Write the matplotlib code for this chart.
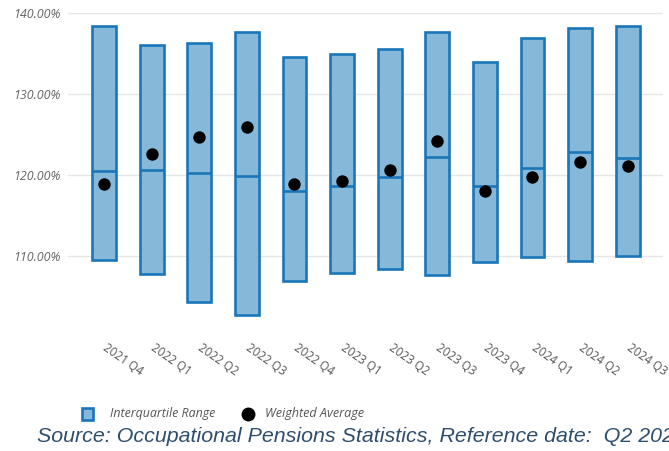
import matplotlib
matplotlib.use("Agg")
import matplotlib.pyplot as plt
import numpy as np
from matplotlib.lines import Line2D

categories = ["2021 Q4", "2022 Q1", "2022 Q2", "2022 Q3", "2022 Q4", "2023 Q1",
              "2023 Q2", "2023 Q3", "2023 Q4", "2024 Q1", "2024 Q2", "2024 Q3"]
q1 = [109.5, 107.8, 104.3, 102.7, 106.9, 107.9, 108.35, 107.6, 109.3, 109.9, 109.4, 109.95]
q3 = [138.4, 136.1, 136.3, 137.7, 134.6, 135.0, 135.6, 137.65, 133.95, 136.95, 138.1, 138.35]
median = [120.45, 120.65, 120.3, 119.9, 118.0, 118.7, 119.8, 122.25, 118.7, 120.9, 122.9, 122.1]
weighted_avg = [118.9, 122.6, 124.7, 125.9, 118.9, 119.2, 120.65, 124.2, 118.0, 119.8, 121.6, 121.15]
yticks = [110, 120, 130, 140]

W, H = 669, 451
fig = plt.figure(figsize=(W / 100, H / 100), dpi=100)
fig.patch.set_facecolor("white")

ylo, yhi = 101.5, 140.3
px_per = 8.1
top_px = 175 - (yhi - 120) * px_per
bot_px = 175 + (120 - ylo) * px_per
left_px, right_px = 68, 663
ax = fig.add_axes([left_px / W, 1 - bot_px / H, (right_px - left_px) / W, (bot_px - top_px) / H])

x = np.arange(len(categories))
spacing = 47.6
first = (104 - left_px) / spacing
ax.set_xlim(-first, -first + (right_px - left_px) / spacing)
ax.set_ylim(ylo, yhi)

edge = "#1a76b8"
fill = "#86b8da"
bw = 0.5
heights = np.array(q3) - np.array(q1)
ax.bar(x, heights, bottom=q1, width=bw, color=fill, edgecolor=edge, linewidth=1.9, zorder=2)
ax.hlines(median, x - bw / 2, x + bw / 2, color=edge, linewidth=1.9, zorder=3)
ax.scatter(x, weighted_avg, s=80, color="black", zorder=4, linewidths=0)

ax.set_yticks(yticks)
ax.set_yticklabels([f"{v:.2f}%" for v in yticks], fontstyle="italic",
                   fontfamily="Open Sans", fontsize=9, color="#666666")
ax.yaxis.grid(True, color="#e6e6e6", linewidth=1)
ax.set_axisbelow(True)
ax.tick_params(axis="y", length=0, pad=5)
ax.tick_params(axis="x", length=0)
ax.set_xticks(x)
ax.set_xticklabels([])
for s in ax.spines.values():
    s.set_visible(False)

for xi, lab in zip(x, categories):
    ax.annotate(lab, xy=(xi, 0), xycoords=("data", "axes fraction"),
                xytext=(4, -16), textcoords="offset pixels",
                rotation=-35, rotation_mode="anchor", ha="left", va="top",
                fontsize=8.4, fontfamily="Open Sans", color="#555555",
                annotation_clip=False)

# legend
fig.patches.append(matplotlib.patches.Rectangle((82 / W, 1 - 420 / H), 11 / W, 12 / H,
                   transform=fig.transFigure, facecolor=fill, edgecolor=edge, linewidth=1.9))
fig.text(110 / W, 1 - 414 / H, "Interquartile Range", fontsize=8.9, fontstyle="italic",
         fontfamily="Open Sans", color="#555555", va="center", ha="left")
fig.add_artist(Line2D([248 / W], [1 - 414 / H], marker="o", markersize=9, color="black",
                      linestyle="none", transform=fig.transFigure))
fig.text(265 / W, 1 - 414 / H, "Weighted Average", fontsize=9.1, fontstyle="italic",
         fontfamily="Open Sans", color="#555555", va="center", ha="left")

fig.text(37 / W, 1 - 442 / H, "Source: Occupational Pensions Statistics, Reference date:  Q2 2024",
         fontsize=15.4, fontstyle="italic", fontfamily="Liberation Sans", color="#2f4e6e",
         va="baseline", ha="left")

fig.savefig("out.png", dpi=100)
